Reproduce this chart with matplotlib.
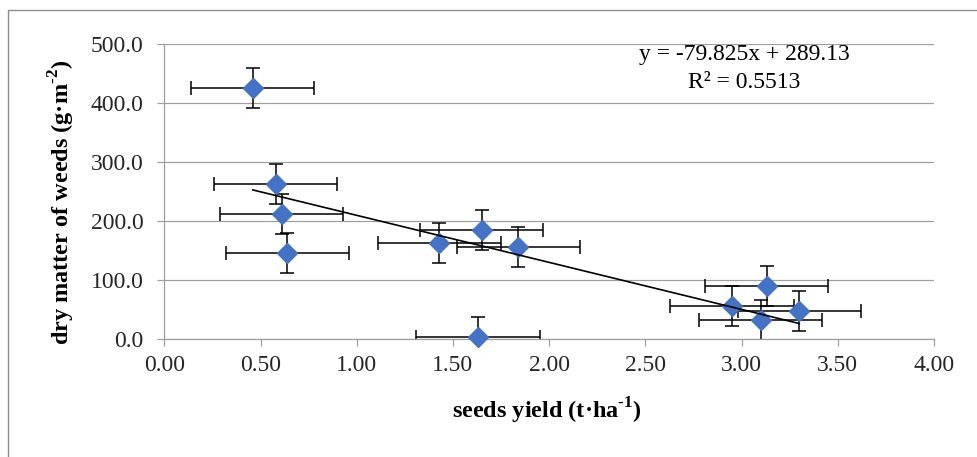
import matplotlib
matplotlib.use('Agg')
from matplotlib import pyplot as plt
from matplotlib.patches import Rectangle
from matplotlib.ticker import FormatStrFormatter
import numpy as np

# values
seed_yield = [0.46, 0.58, 0.61, 0.64, 1.43, 1.65, 1.84, 1.63, 3.13, 2.95, 3.30, 3.10]
dry_matter = [426, 262, 212, 146, 162, 185, 156, 3, 89, 55, 47, 31]
xerr = [0.32]*len(seed_yield)
yerr = [34]*len(seed_yield)
slope, intercept = -79.825, 289.13
r2 = 0.5513

plt.rcParams['font.family'] = 'Liberation Serif'
plt.rcParams['mathtext.fontset'] = 'custom'
plt.rcParams['mathtext.rm'] = 'Liberation Serif'
plt.rcParams['mathtext.bf'] = 'Liberation Serif:bold'

fig = plt.figure(figsize=(9.78, 4.57), dpi=100)
ax = fig.add_axes([0.168, 0.2589, 0.787, 0.6448])

grid_c = '#a0a0a0'
ax.set_xlim(0, 4)
ax.set_ylim(0, 500)
ax.set_xticks(np.arange(0, 4.01, 0.5))
ax.set_yticks(np.arange(0, 501, 100))
ax.xaxis.set_major_formatter(FormatStrFormatter('%.2f'))
ax.yaxis.set_major_formatter(FormatStrFormatter('%.1f'))
ax.yaxis.grid(True, color=grid_c, lw=0.9)
ax.set_axisbelow(True)
for s in ['top', 'right']:
    ax.spines[s].set_visible(False)
for s in ['left', 'bottom']:
    ax.spines[s].set_color(grid_c)
    ax.spines[s].set_linewidth(0.9)
ax.tick_params(axis='both', colors=grid_c, length=5, width=0.9,
               labelcolor='#262626', labelsize=17)
ax.tick_params(axis='x', pad=7)
ax.tick_params(axis='y', pad=10)

# error bars are clipped at the axes, the markers are not
ax.errorbar(seed_yield, dry_matter, xerr=xerr, yerr=yerr, fmt='none',
            ecolor='black', elinewidth=1.1, capsize=5, capthick=1.1, zorder=2)
ax.plot(seed_yield, dry_matter, 'D', ms=10.5, color='#4472C4', mec='#4472C4',
        zorder=3, clip_on=False)

xt = np.array([min(seed_yield), max(seed_yield)])
ax.plot(xt, slope*xt + intercept, color='black', lw=1.2, zorder=4)

ax.text(0.753, 0.966, 'y = %.3fx + %.2f' % (slope, intercept), transform=ax.transAxes,
        ha='center', va='center', fontsize=17)
ax.text(0.753, 0.871, 'R\u00b2 = %.4f' % r2, transform=ax.transAxes,
        ha='center', va='center', fontsize=17)

ax.set_xlabel('seeds yield (t\u00b7ha$^{\\mathbf{\u2010}\\mathbf{1}}$)', fontsize=17.5,
              fontweight='bold', va='center', ha='center')
ax.xaxis.set_label_coords(0.497, -0.245)
ax.set_ylabel('dry matter of weeds (g\u00b7m$^{\\mathbf{\u2010}\\mathbf{2}}$)', fontsize=17.5,
              fontweight='bold', va='center', ha='center')
ax.yaxis.set_label_coords(-0.133, 0.464)

fig.patches.append(Rectangle((8/978, -0.1), 1.2, 1.078, transform=fig.transFigure,
                             fill=False, edgecolor='#8c8c8c', lw=1.0))

fig.savefig('out.png', dpi=100)
